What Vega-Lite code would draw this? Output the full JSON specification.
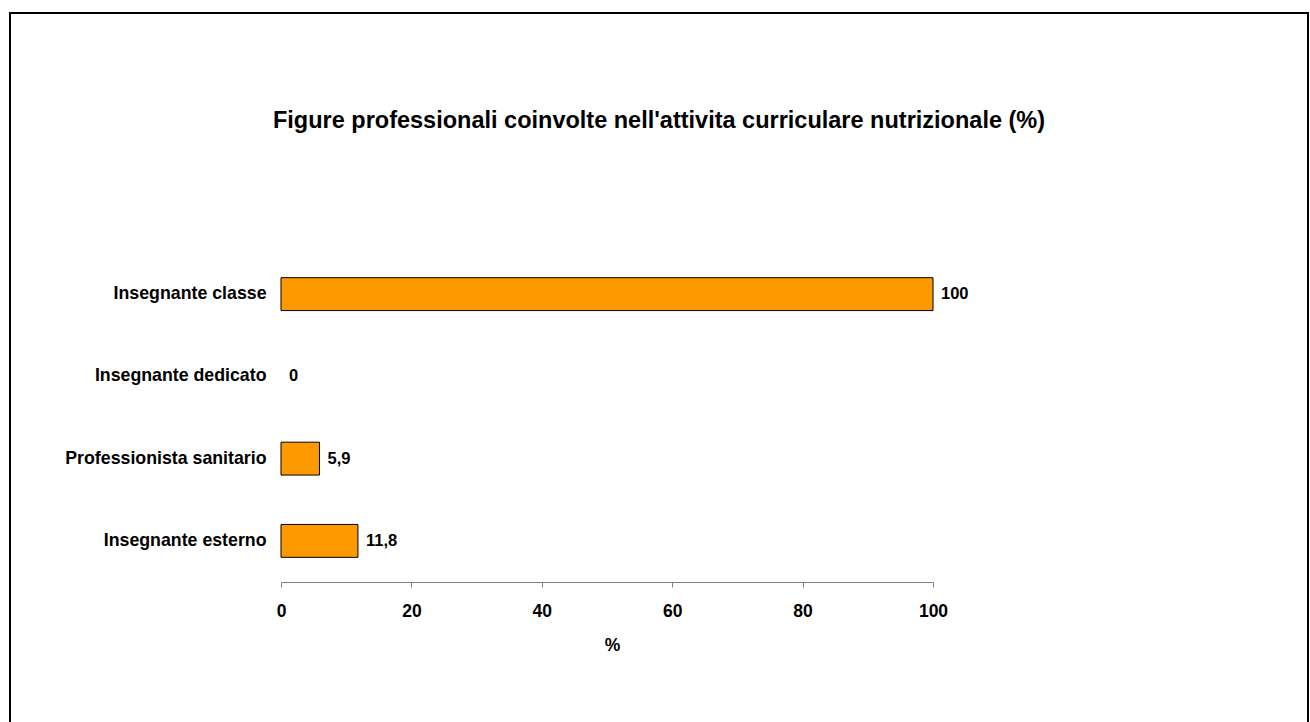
{
  "$schema": "https://vega.github.io/schema/vega-lite/v6.json",
  "width": 1298,
  "height": 714,
  "autosize": {"type": "none"},
  "padding": {"left": 10, "top": 13, "right": 2, "bottom": -5},
  "background": "white",
  "config": {
    "font": "Liberation Sans",
    "locale": {"number": {"decimal": ",", "thousands": ".", "grouping": [3], "currency": ["€", ""]}},
    "view": {"stroke": "black", "strokeWidth": 2}
  },
  "title": {
    "text": "Figure professionali coinvolte nell'attivita curriculare nutrizionale (%)",
    "fontSize": 23.5,
    "fontWeight": "bold",
    "anchor": "middle",
    "frame": "group",
    "baseline": "alphabetic",
    "offset": -138,
    "color": "black"
  },
  "data": {
    "values": [
      {"figura": "Insegnante classe", "valore": 100},
      {"figura": "Insegnante dedicato", "valore": 0},
      {"figura": "Professionista sanitario", "valore": 5.9},
      {"figura": "Insegnante esterno", "valore": 11.8}
    ]
  },
  "encoding": {
    "y": {
      "field": "figura",
      "type": "nominal",
      "sort": null,
      "scale": {"range": [240, 569], "paddingInner": 0.6, "paddingOuter": 0.3},
      "axis": {
        "title": null,
        "orient": "left",
        "offset": -271,
        "domain": false,
        "ticks": false,
        "grid": false,
        "labelPadding": 15,
        "labelFontSize": 17.75,
        "labelFontWeight": "bold",
        "labelColor": "black",
        "labelLimit": 400
      }
    },
    "x": {
      "field": "valore",
      "type": "quantitative",
      "scale": {"domain": [0, 100], "range": [271, 923], "nice": false},
      "axis": {
        "values": [0, 20, 40, 60, 80, 100],
        "title": "%",
        "orient": "bottom",
        "offset": -145,
        "grid": false,
        "domainColor": "#808080",
        "tickColor": "#808080",
        "tickSize": 5,
        "labelFlush": false,
        "labelFontSize": 17.5,
        "labelFontWeight": "bold",
        "labelColor": "black",
        "labelPadding": 15,
        "titleFontSize": 17.5,
        "titleFontWeight": "bold",
        "titleColor": "black",
        "titleX": 602,
        "titleY": 68,
        "titleBaseline": "alphabetic"
      }
    }
  },
  "layer": [
    {
      "mark": {"type": "bar", "fill": "#FF9900", "stroke": "black", "strokeWidth": 1},
      "encoding": {
        "strokeOpacity": {"condition": {"test": "datum.valore == 0", "value": 0}, "value": 1}
      }
    },
    {
      "mark": {"type": "text", "align": "left", "baseline": "middle", "dx": 8, "fontSize": 16.5, "fontWeight": "bold", "color": "black"},
      "encoding": {
        "text": {"field": "valore", "type": "quantitative", "format": ".1~f"}
      }
    }
  ]
}
